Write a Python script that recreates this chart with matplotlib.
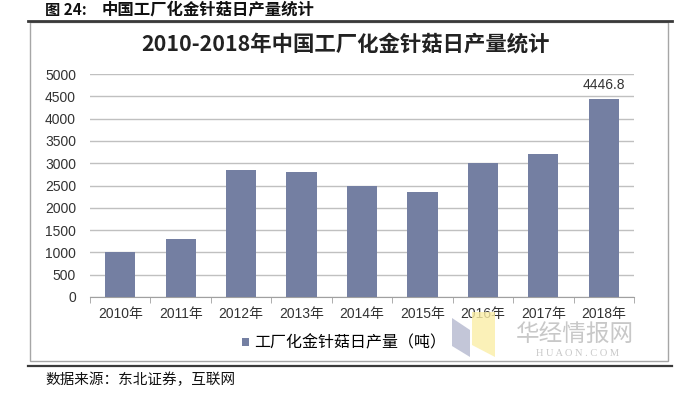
import matplotlib
matplotlib.use('Agg')
import matplotlib.pyplot as plt
from matplotlib.patches import Rectangle, Polygon
import numpy as np

plt.rcParams['font.family'] = ['Liberation Sans', 'Noto Sans CJK SC', 'DejaVu Sans']

# data
years = ['2010年', '2011年', '2012年', '2013年', '2014年', '2015年', '2016年', '2017年', '2018年']
output = [1000, 1300, 2850, 2800, 2500, 2350, 3000, 3200, 4446.8]
yticks = [0, 500, 1000, 1500, 2000, 2500, 3000, 3500, 4000, 4500, 5000]
series_name = '工厂化金针菇日产量（吨）'
title = '2010-2018年中国工厂化金针菇日产量统计'
caption_num = '图 24:'
caption = '中国工厂化金针菇日产量统计'
source = '数据来源：东北证券，互联网'

bar_color = '#747fa2'
text_color = '#333333'
grid_color = '#c0c0c0'
cjk = ['Noto Sans CJK SC', 'DejaVu Sans']

fig = plt.figure(figsize=(6.76, 3.99), dpi=100)
W, H = 676, 399

# frame of the chart box and the report rules
fig.patches.append(Rectangle((30 / W, 1 - 361 / H), 638 / W, 339 / H,
                             transform=fig.transFigure, fill=False,
                             edgecolor='#a6a6a6', lw=1.0))
fig.add_artist(plt.Line2D([28 / W, 672 / W], [1 - 21 / H, 1 - 21 / H],
                          transform=fig.transFigure, color='#3a3a3a', lw=2.0))
fig.add_artist(plt.Line2D([28 / W, 672 / W], [1 - 366 / H, 1 - 366 / H],
                          transform=fig.transFigure, color='#3a3a3a', lw=1.6))

fig.text(45 / W, 1 - 10 / H, caption_num, fontsize=11, fontweight='bold',
         color='#111111', va='center', ha='left', family=cjk)
fig.text(102 / W, 1 - 10 / H, caption, fontsize=11.8, fontweight='bold',
         color='#111111', va='center', ha='left', family=cjk)
fig.text(45 / W, 1 - 380 / H, source, fontsize=10.5, color='#111111',
         va='center', ha='left', family=cjk)
fig.text(346 / W, 1 - 44 / H, title, fontsize=15.4, fontweight='bold',
         color='#222222', va='center', ha='center', family=cjk)

# watermark
fig.patches.append(Polygon([(452 / W, 1 - 318 / H), (470 / W, 1 - 330 / H),
                            (470 / W, 1 - 357 / H), (452 / W, 1 - 346 / H)],
                           closed=True, transform=fig.transFigure,
                           facecolor='#b4b8cf', edgecolor='none', alpha=0.8))
fig.patches.append(Polygon([(472 / W, 1 - 312 / H), (495 / W, 1 - 312 / H),
                            (495 / W, 1 - 357 / H), (472 / W, 1 - 345 / H)],
                           closed=True, transform=fig.transFigure,
                           facecolor='#fbeea6', edgecolor='none', alpha=0.8))
fig.text(575 / W, 1 - 334 / H, '华经情报网', fontsize=17, color='#c8c8c8',
         ha='center', va='center', family=cjk)
fig.text(577 / W, 1 - 354 / H, 'H U A O N . C O M', fontsize=7.5, color='#c8c8c8',
         ha='center', va='center', family='Liberation Serif')

ax = fig.add_axes([90 / W, 1 - 297 / H, 544 / W, 223 / H])
x = np.arange(len(years))
bars = ax.bar(x, output, width=0.5, color=bar_color, label=series_name, zorder=3)

ax.set_xlim(-0.5, len(years) - 0.5)
ax.set_ylim(0, 5000)
ax.set_yticks(yticks)
ax.set_yticklabels([str(v) for v in yticks], fontsize=10, color=text_color)
ax.yaxis.grid(True, color=grid_color, lw=1.0, zorder=0)
ax.tick_params(axis='y', length=0, pad=10)

ax.set_xticks(x)
ax.set_xticklabels(years, fontsize=10, color=text_color)
ax.set_xticks(np.arange(len(years) + 1) - 0.5, minor=True)
ax.tick_params(axis='x', which='major', length=0, pad=7)
ax.tick_params(axis='x', which='minor', length=4, color='#a0a0a0', direction='out')

for side in ['top', 'right', 'left']:
    ax.spines[side].set_visible(False)
ax.spines['bottom'].set_color('#a0a0a0')

ax.text(x[-1], output[-1] + 150, f'{output[-1]}', ha='center', va='bottom',
        fontsize=10, color=text_color)

fig.legend(handles=[bars], labels=[series_name], loc='center',
           bbox_to_anchor=(344 / W, 1 - 343 / H), frameon=False,
           handlelength=0.45, handleheight=0.45, handletextpad=0.3,
           prop={'family': cjk, 'size': 11.5})

fig.savefig('out.png', dpi=100)
